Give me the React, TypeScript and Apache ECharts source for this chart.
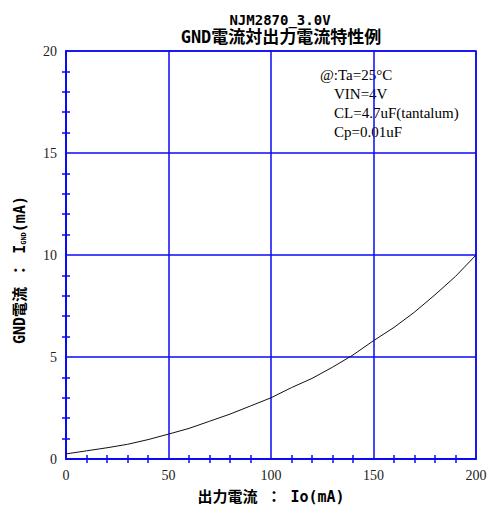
import React, { useEffect, useRef } from "react";
import * as echarts from "echarts";

const ioValues = [0, 10, 20, 30, 40, 50, 60, 70, 80, 90, 100, 110, 120, 130, 140, 150, 160, 170, 180, 190, 200];
const ignValues = [0.25, 0.4, 0.55, 0.72, 0.95, 1.22, 1.5, 1.85, 2.2, 2.6, 3.0, 3.5, 3.95, 4.5, 5.1, 5.8, 6.45, 7.2, 8.05, 8.95, 10.0];
const titleLines = ["NJM2870_3.0V", "GND電流対出力電流特性例"];
const noteLines = ["@:Ta=25°C", "VIN=4V", "CL=4.7uF(tantalum)", "Cp=0.01uF"];

const BLUE = "#0a0af5";
const MONO = "'DejaVu Sans Mono', 'Noto Sans CJK JP'";

export default function App() {
  const ref = useRef<HTMLDivElement>(null);
  useEffect(() => {
    const chart = echarts.init(ref.current!, null, { renderer: "svg" });
    const tickLabel = { show: true, color: "#222", fontSize: 14, margin: 9, fontFamily: "'Liberation Serif'" };
    const line = { color: BLUE, width: 1.5, type: "solid" };
    chart.setOption({
      animation: false,
      backgroundColor: "#ffffff",
      title: [
        {
          text: titleLines[0],
          left: 275,
          textAlign: "center",
          top: 7,
          textStyle: { fontSize: 14, lineHeight: 15, fontWeight: "bold", color: "#000", fontFamily: MONO },
        },
        {
          text: titleLines[1],
          left: 276,
          textAlign: "center",
          top: 23,
          textStyle: { fontSize: 17, lineHeight: 18, fontWeight: "bold", color: "#000", fontFamily: MONO },
        },
      ],
      graphic: [
        ...noteLines.map((t, i) => ({
          type: "text",
          left: i === 0 ? 320 : 334,
          top: 67 + i * 19,
          style: { text: t, font: "15px 'Liberation Serif'", fill: "#000" },
        })),
        {
          type: "text",
          x: 20,
          y: 270,
          rotation: Math.PI / 2,
          style: {
            text: "{a|GND電流 ： I}{s|GND}{a|(mA)}",
            align: "center",
            verticalAlign: "middle",
            rich: {
              a: { fontSize: 15, fontWeight: "bold", fill: "#000", fontFamily: MONO },
              s: { fontSize: 7, fontWeight: "bold", fill: "#000", fontFamily: MONO, verticalAlign: "bottom", padding: [6, 0, 0, 0] },
            },
          },
        },
      ],
      grid: { left: 66, right: 12, top: 51, bottom: 52, show: true, borderColor: BLUE, borderWidth: 1.5, outerBoundsMode: "none", containLabel: false },
      xAxis: [
        {
          type: "value",
          min: 0, max: 200, interval: 50, position: "bottom",
          axisLine: { show: true, lineStyle: line },
          axisTick: { show: false, inside: true },
          minorTick: { show: true, splitNumber: 5, length: 4, lineStyle: line },
          axisLabel: tickLabel,
          splitLine: { show: true, lineStyle: line },
          name: "出力電流 ： Io(mA)",
          nameLocation: "middle",
          nameGap: 30,
          nameTextStyle: { fontSize: 15, fontWeight: "bold", color: "#000", fontFamily: MONO },
        },
        {
          type: "value",
          min: 0, max: 200, interval: 50, position: "top",
          axisLine: { show: true, lineStyle: line },
          axisTick: { show: false, inside: true },
          minorTick: { show: true, splitNumber: 5, length: 4, lineStyle: line },
          axisLabel: { show: false },
          splitLine: { show: false },
        },
      ],
      yAxis: [
        {
          type: "value",
          min: 0, max: 20, interval: 5, position: "left",
          axisLine: { show: true, lineStyle: line },
          axisTick: { show: false, inside: true },
          minorTick: { show: true, splitNumber: 5, length: 4, lineStyle: line },
          axisLabel: tickLabel,
          splitLine: { show: true, lineStyle: line },
        },
        {
          type: "value",
          min: 0, max: 20, interval: 5, position: "right",
          axisLine: { show: true, lineStyle: line },
          axisTick: { show: false, inside: true },
          minorTick: { show: true, splitNumber: 5, length: 4, lineStyle: line },
          axisLabel: { show: false },
          splitLine: { show: false },
        },
      ],
      series: [
        {
          type: "line",
          data: ioValues.map((x, i) => [x, ignValues[i]]),
          xAxisIndex: 0,
          yAxisIndex: 0,
          showSymbol: false,
          symbol: "none",
          lineStyle: { color: "#111", width: 1 },
        },
      ],
    });
    return () => chart.dispose();
  }, []);
  return <div ref={ref} style={{ width: 488, height: 511, position: "absolute", left: 0, top: 0 }} />;
}
